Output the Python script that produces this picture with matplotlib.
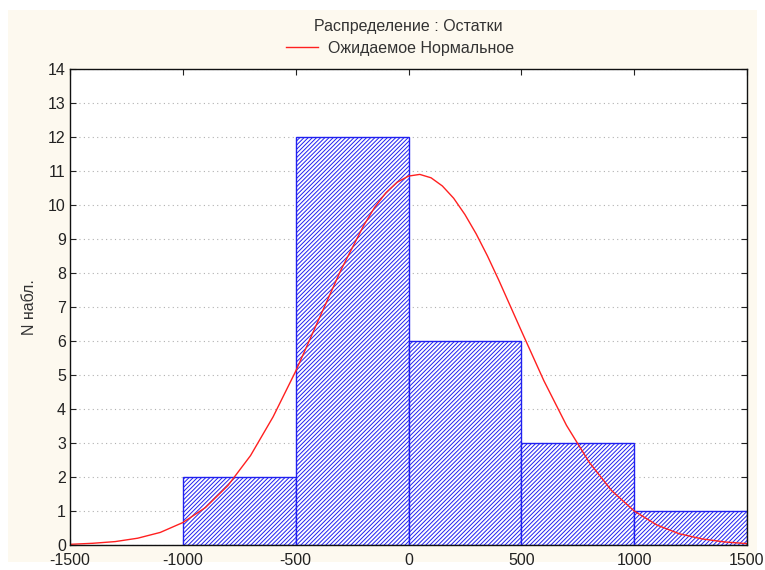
import matplotlib.pyplot as plt
from matplotlib.patches import Rectangle

bin_left = [-1000, -500, 0, 500, 1000]
bin_width = 500
counts = [2, 12, 6, 3, 1]

curve_x = [-1500, -1400, -1300, -1200, -1100, -1000, -900, -800, -700, -600,
           -500, -400, -300, -200, -150, -100, -50, 0, 50, 100, 150, 200, 250,
           300, 350, 400, 500, 600, 700, 800, 900, 1000, 1100, 1200, 1300,
           1400, 1500]
curve_y = [0.02, 0.05, 0.10, 0.20, 0.37, 0.66, 1.10, 1.75, 2.63, 3.77,
           5.11, 6.60, 8.08, 9.38, 9.93, 10.36, 10.67, 10.85, 10.90, 10.80,
           10.56, 10.20, 9.72, 9.15, 8.50, 7.79, 6.30, 4.83, 3.52, 2.44, 1.60,
           1.00, 0.59, 0.33, 0.18, 0.09, 0.04]

x_ticks = [-1500, -1000, -500, 0, 500, 1000, 1500]
y_ticks = list(range(0, 15))

plt.rcParams["font.family"] = ["Liberation Sans", "DejaVu Sans"]
plt.rcParams["axes.unicode_minus"] = False
plt.rcParams["hatch.color"] = "#1a1aff"
plt.rcParams["hatch.linewidth"] = 0.7

fig = plt.figure(figsize=(7.65, 5.70), dpi=100, facecolor="white")
fig.patches.append(Rectangle((8 / 765, 8 / 570), 749 / 765, 552 / 570,
                             transform=fig.transFigure, facecolor="#fdf9ef",
                             edgecolor="none", zorder=-10))
ax = fig.add_axes([70 / 765, 1 - 545 / 570, 677 / 765, 476 / 570])
ax.set_facecolor("white")

ax.bar(bin_left, counts, width=bin_width, align="edge", facecolor="white",
       edgecolor="#2020f0", linewidth=1.0, hatch="////////", zorder=2)
line, = ax.plot(curve_x, curve_y, color="#ff2020", linewidth=1.0, zorder=3)

ax.set_xlim(-1500, 1500)
ax.set_ylim(0, 14)
ax.set_xticks(x_ticks)
ax.set_yticks(y_ticks)
ax.yaxis.grid(True, linestyle=(0, (1, 3)), color="#b0b0b0", linewidth=0.8)
ax.set_axisbelow(True)
ax.tick_params(direction="in", length=4, width=0.8, top=True, right=True,
               labelsize=11.5, colors="#222222", pad=3)
ax.tick_params(axis="x", pad=6)
for s in ax.spines.values():
    s.set_linewidth(1.0)
    s.set_color("#111111")
    s.set_zorder(4)

ax.set_ylabel("N набл.", fontsize=11.5, color="#333333", labelpad=8)

fig.text(408 / 765, 1 - 27 / 570, "Распределение : Остатки", ha="center",
         va="center", fontsize=11.5, color="#333333")
fig.legend([line], ["Ожидаемое Нормальное"], loc="center",
           bbox_to_anchor=(400 / 765, 1 - 48 / 570), frameon=False,
           fontsize=11.5, handlelength=2.0, handletextpad=0.6, labelcolor="#333333")

fig.savefig("out.png", dpi=100, facecolor="white")
